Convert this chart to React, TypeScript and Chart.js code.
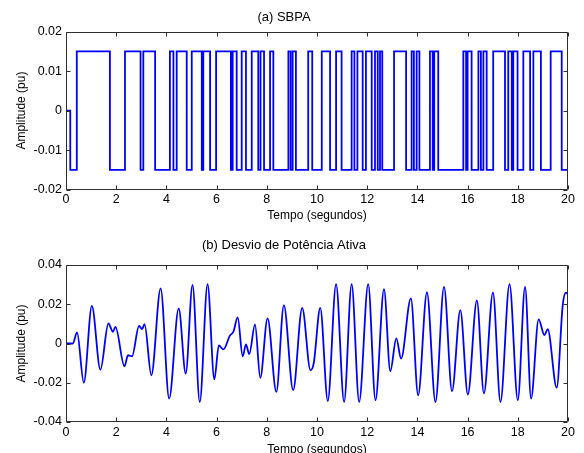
import React, { useEffect, useRef } from 'react';
import { Chart, registerables } from 'chart.js';

Chart.register(...registerables);

const FONT = "'Liberation Sans', Arial, Helvetica, sans-serif";

// ---- tick values / labels ----
const timeTicks = [0, 2, 4, 6, 8, 10, 12, 14, 16, 18, 20];
const timeTickLabels = ['0', '2', '4', '6', '8', '10', '12', '14', '16', '18', '20'];
const sbpaTicks = [-0.02, -0.01, 0, 0.01, 0.02];
const sbpaTickLabels = ['-0.02', '-0.01', '0', '0.01', '0.02'];
const powerTicks = [-0.04, -0.02, 0, 0.02, 0.04];
const powerTickLabels = ['-0.04', '-0.02', '0', '0.02', '0.04'];

// ---- (a) SBPA: switching instants (s) and the level held from each instant ----
const sbpaSwitchTimes = [
  0, 0.17, 0.43, 1.75, 2.35, 2.97, 3.08, 3.55, 4.14, 4.28,
  4.41, 4.81, 5.01, 5.41, 5.47, 5.74, 5.98, 6.57, 6.64, 6.80,
  7.00, 7.17, 7.40, 7.66, 7.75, 7.89, 8.13, 8.26, 8.86, 8.95,
  9.03, 9.16, 9.65, 9.81, 10.19, 10.52, 10.76, 10.98, 11.38, 11.49,
  11.61, 11.82, 11.95, 12.18, 12.31, 12.42, 12.51, 12.60, 13.07, 13.55,
  13.77, 13.86, 13.97, 14.08, 14.50, 14.61, 14.67, 14.83, 15.83, 15.94,
  16.00, 16.16, 16.43, 16.53, 16.63, 16.76, 17.02, 17.49, 17.62, 17.76,
  17.82, 17.99, 18.22, 18.49, 18.62, 18.92, 19.31, 19.75,
];
const sbpaLevels = [
  0, -0.015, 0.015, -0.015, 0.015, -0.015, 0.015, -0.015, 0.015, -0.015,
  0.015, -0.015, 0.015, -0.015, 0.015, -0.015, 0.015, -0.015, 0.015, -0.015,
  0.015, -0.015, 0.015, -0.015, 0.015, -0.015, 0.015, -0.015, 0.015, -0.015,
  0.015, -0.015, 0.015, -0.015, 0.015, -0.015, 0.015, -0.015, 0.015, -0.015,
  0.015, -0.015, 0.015, -0.015, 0.015, -0.015, 0.015, -0.015, 0.015, -0.015,
  0.015, -0.015, 0.015, -0.015, 0.015, -0.015, 0.015, -0.015, 0.015, -0.015,
  0.015, -0.015, 0.015, -0.015, 0.015, -0.015, 0.015, -0.015, 0.015, -0.015,
  0.015, -0.015, 0.015, -0.015, 0.015, -0.015, 0.015, -0.015,
];
const sbpaEnd = 20;

// ---- (b) Desvio de Potência Ativa: time (s) and amplitude (pu) ----
const powerTimes = [
  0, 0.27, 0.44, 0.71, 1.03, 1.37, 1.69, 1.87, 1.97, 2.33,
  2.47, 2.63, 2.91, 3.03, 3.13, 3.40, 3.77, 4.11, 4.49, 4.77,
  5.04, 5.33, 5.64, 5.91, 6.09, 6.27, 6.53, 6.67, 6.84, 7.04,
  7.17, 7.30, 7.53, 7.74, 8.03, 8.38, 8.68, 9.05, 9.41, 9.74,
  9.87, 10.13, 10.43, 10.76, 11.08, 11.38, 11.68, 12.04, 12.33, 12.67,
  12.92, 13.16, 13.35, 13.74, 14.03, 14.38, 14.72, 15.06, 15.38, 15.71,
  16.01, 16.37, 16.65, 17.01, 17.31, 17.67, 18.00, 18.29, 18.53, 18.83,
  19.06, 19.19, 19.55, 19.79, 19.92, 20,
];
const powerValues = [
  0, 0, 0.0056, -0.020, 0.0192, -0.0133, 0.0102, 0.006, 0.0085, -0.0116,
  -0.006, -0.0065, 0.009, 0.0073, 0.0099, -0.0162, 0.0281, -0.0281, 0.0179, -0.0153,
  0.0298, -0.0298, 0.0303, -0.0182, -0.001, -0.003, 0.004, 0.006, 0.0133, -0.0065,
  -0.0005, -0.0054, 0.0097, -0.0175, 0.0128, -0.0247, 0.0196, -0.0238, 0.0182, -0.0136,
  -0.010, 0.0182, -0.0293, 0.0303, -0.0298, 0.0303, -0.0298, 0.0303, -0.0289, 0.0277,
  -0.0141, 0.0026, -0.0077, 0.023, -0.0264, 0.026, -0.0298, 0.0289, -0.0243, 0.017,
  -0.026, 0.022, -0.0255, 0.0259, -0.0298, 0.0303, -0.0289, 0.0289, -0.0281, 0.0123,
  0.0043, 0.0073, -0.0225, 0.0196, 0.0259, 0.025,
];

function buildSbpaPoints() {
  const pts: { x: number; y: number }[] = [];
  for (let i = 0; i < sbpaSwitchTimes.length; i++) {
    if (i > 0) pts.push({ x: sbpaSwitchTimes[i], y: sbpaLevels[i - 1] });
    pts.push({ x: sbpaSwitchTimes[i], y: sbpaLevels[i] });
  }
  pts.push({ x: sbpaEnd, y: sbpaLevels[sbpaLevels.length - 1] });
  return pts;
}

function buildPowerPoints() {
  return powerTimes.map((t, i) => ({ x: t, y: powerValues[i] }));
}

const framePlugin = {
  id: 'matlabFrame',
  afterDraw(chart: any) {
    const { ctx, chartArea: a, scales } = chart;
    ctx.save();
    ctx.strokeStyle = '#2e2e2e';
    ctx.lineWidth = 1;
    const L = Math.round(a.left) + 0.5;
    const R = Math.round(a.right) - 0.5;
    const T = Math.round(a.top) + 0.5;
    const B = Math.round(a.bottom) - 0.5;
    ctx.beginPath();
    ctx.rect(L, T, R - L, B - T);
    const len = 4;
    for (const tk of scales.x.ticks) {
      const px = Math.round(scales.x.getPixelForValue(tk.value)) + 0.5;
      ctx.moveTo(px, B);
      ctx.lineTo(px, B - len);
      ctx.moveTo(px, T);
      ctx.lineTo(px, T + len);
    }
    for (const tk of scales.y.ticks) {
      const py = Math.round(scales.y.getPixelForValue(tk.value)) + 0.5;
      ctx.moveTo(L, py);
      ctx.lineTo(L + len, py);
      ctx.moveTo(R, py);
      ctx.lineTo(R - len, py);
    }
    ctx.stroke();
    ctx.restore();
  },
};

type PlotProps = {
  top: number;
  height: number;
  title: string;
  titlePad: { top: number; bottom: number };
  xAxisHeight: number;
  xTitleBottom: number;
  yMin: number;
  yMax: number;
  yTicks: number[];
  yLabels: string[];
  points: { x: number; y: number }[];
  smooth: boolean;
};

function SubPlot(p: PlotProps) {
  const ref = useRef<HTMLCanvasElement | null>(null);
  useEffect(() => {
    if (!ref.current) return;
    const chart = new Chart(ref.current, {
      type: 'line',
      data: {
        datasets: [
          {
            data: p.points,
            borderColor: '#0000ff',
            borderWidth: 1.8,
            pointRadius: 0,
            fill: false,
            cubicInterpolationMode: p.smooth ? 'monotone' : 'default',
            tension: 0,
          } as any,
        ],
      },
      options: {
        animation: false,
        responsive: false,
        maintainAspectRatio: false,
        devicePixelRatio: 1,
        layout: { padding: { left: 0, right: 16, top: 0, bottom: 0 } },
        plugins: {
          legend: { display: false },
          tooltip: { enabled: false },
          title: {
            display: true,
            text: p.title,
            color: '#000',
            font: { family: FONT, size: 13, weight: 'normal' },
            padding: p.titlePad,
          },
        },
        scales: {
          x: {
            type: 'linear',
            min: 0,
            max: 20,
            grid: { display: false, drawTicks: false },
            border: { display: false },
            afterBuildTicks: (s: any) => {
              s.ticks = timeTicks.map((v) => ({ value: v }));
            },
            afterFit: (s: any) => {
              s.height = p.xAxisHeight;
            },
            ticks: {
              autoSkip: false,
              maxRotation: 0,
              padding: 3,
              color: '#000',
              font: { family: FONT, size: 12.5 },
              callback: (_v: any, i: number) => timeTickLabels[i],
            },
            title: {
              display: true,
              text: 'Tempo (segundos)',
              color: '#000',
              font: { family: FONT, size: 12 },
              padding: { top: 0, bottom: p.xTitleBottom },
            },
          },
          y: {
            type: 'linear',
            min: p.yMin,
            max: p.yMax,
            grid: { display: false, drawTicks: false },
            border: { display: false },
            afterBuildTicks: (s: any) => {
              s.ticks = p.yTicks.map((v) => ({ value: v }));
            },
            afterFit: (s: any) => {
              s.width = 66;
            },
            ticks: {
              padding: 4,
              color: '#000',
              font: { family: FONT, size: 12.5 },
              callback: (_v: any, i: number) => p.yLabels[i],
            },
            title: {
              display: true,
              text: 'Amplitude (pu)',
              color: '#000',
              font: { family: FONT, size: 12 },
              padding: { top: 14, bottom: 0 },
            },
          },
        },
      } as any,
      plugins: [framePlugin],
    });
    return () => chart.destroy();
  }, []);
  return (
    <canvas
      ref={ref}
      width={584}
      height={p.height}
      style={{ position: 'absolute', left: 0, top: p.top, display: 'block' }}
    />
  );
}

export default function App() {
  return (
    <div
      style={{
        position: 'fixed',
        left: 0,
        top: 0,
        width: 584,
        height: 453,
        overflow: 'hidden',
        background: '#fff',
      }}
    >
      <SubPlot
        top={0}
        height={228}
        title="(a) SBPA"
        titlePad={{ top: 9.7, bottom: 6.4 }}
        xAxisHeight={38.5}
        xTitleBottom={5.3}
        yMin={-0.02}
        yMax={0.02}
        yTicks={sbpaTicks}
        yLabels={sbpaTickLabels}
        points={buildSbpaPoints()}
        smooth={false}
      />
      <SubPlot
        top={228}
        height={232}
        title="(b) Desvio de Potência Ativa"
        titlePad={{ top: 9.5, bottom: 11.9 }}
        xAxisHeight={38}
        xTitleBottom={3}
        yMin={-0.04}
        yMax={0.04}
        yTicks={powerTicks}
        yLabels={powerTickLabels}
        points={buildPowerPoints()}
        smooth={true}
      />
    </div>
  );
}
